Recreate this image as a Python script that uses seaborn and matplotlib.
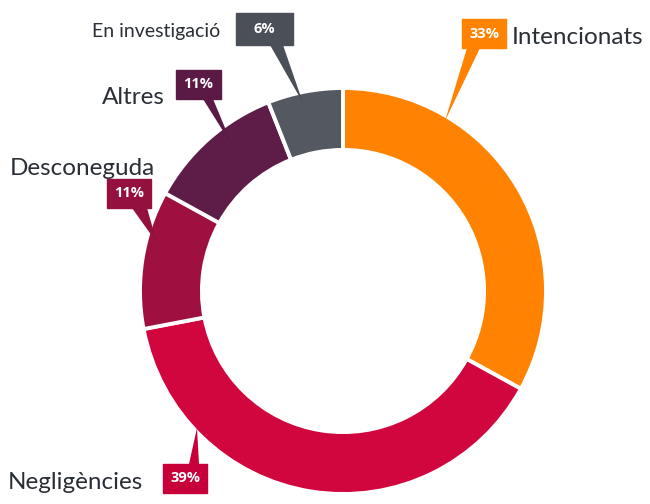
import matplotlib.pyplot as plt
import seaborn as sns
from matplotlib.patches import Polygon, Rectangle

# dades
categories = ["Intencionats", "Negligències", "Desconeguda", "Altres", "En investigació"]
percentatges = [33, 39, 11, 11, 6]
colors = ["#FF8300", "#D2063F", "#9E1040", "#5E1D49", "#545961"]
box_colors = ["#FF8300", "#C8003A", "#94103E", "#5A1A45", "#4B5058"]

# disposició de les etiquetes (en píxels de la imatge, origen a dalt a l'esquerra)
W, H = 650, 504
CX, CY, R = 343, 291, 203
box_rect = [(462, 19, 44, 29), (163, 464, 44, 29), (107, 179, 44, 29),
            (176, 70, 45, 29), (236, 13, 57, 32)]
pointer_base = [(467, 480, 48), (189, 199, 464), (132, 147, 208),
                (203, 213, 99), (270, 283, 45)]
pointer_tip = [(445, 121), (197, 428), (157, 243), (233, 147), (303, 103)]
label_pos = [(512, 44, "left", 17.5), (8, 489, "left", 17.5), (10, 175, "left", 17.5),
             (165, 104, "right", 17.5), (220, 37, "right", 14)]


def px(x, y):
    return (x - CX) / R, (CY - y) / R


sns.set_theme(style="white")
plt.rcParams['font.family'] = ['Lato', 'DejaVu Sans']

fig = plt.figure(figsize=(W / 100, H / 100), dpi=100)
ax = fig.add_axes([0, 0, 1, 1])

ax.pie(percentatges, colors=colors, startangle=90, counterclock=False, radius=1,
       wedgeprops=dict(width=0.305, edgecolor="white", linewidth=2.8))

for i, cat in enumerate(categories):
    bx, by, bw, bh = box_rect[i]
    x0, y0 = px(bx, by + bh)
    ax.add_patch(Rectangle((x0, y0), bw / R, bh / R, color=box_colors[i], zorder=4))
    l, r, yb = pointer_base[i]
    tri = [px(l, yb), px(r, yb), px(*pointer_tip[i])]
    ax.add_patch(Polygon(tri, closed=True, color=box_colors[i], zorder=4, lw=0))
    tx, ty = px(bx + bw / 2, by + bh / 2)
    ax.text(tx, ty, f"{percentatges[i]}%", color="white", fontsize=10.5,
            family=["Open Sans", "DejaVu Sans"], fontweight="bold",
            ha="center", va="center", zorder=5)
    lx, ly, ha, fs = label_pos[i]
    lx, ly = px(lx, ly)
    ax.text(lx, ly, cat, color="#2A2E36", fontsize=fs, fontweight="normal",
            ha=ha, va="baseline")

ax.set_xlim(-CX / R, (W - CX) / R)
ax.set_ylim((CY - H) / R, CY / R)
ax.set_aspect("equal")
ax.axis("off")

plt.savefig("out.png", dpi=100)
